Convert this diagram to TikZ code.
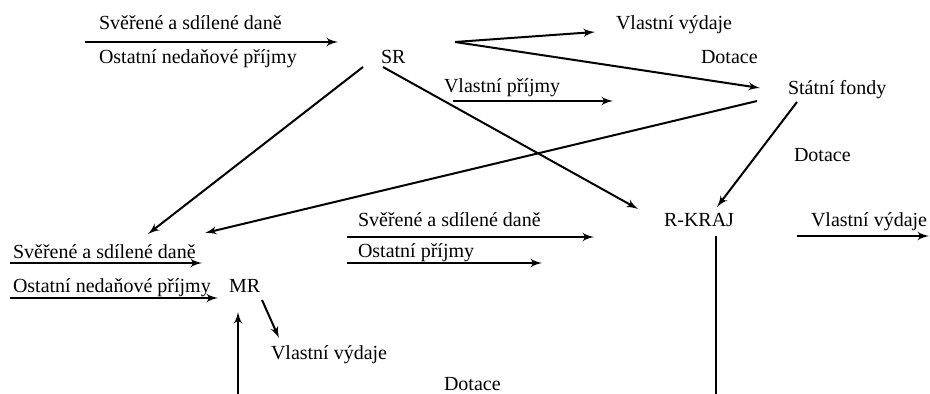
\documentclass[tikz,border=0pt]{standalone}
\usepackage{fontspec}
\setmainfont{LiberationSerif}[Extension=.ttf, UprightFont=*-Regular, BoldFont=*-Bold]
\usetikzlibrary{arrows}

\begin{document}
\begin{tikzpicture}[x=0.5pt, y=-0.5pt, ->, >=latex', line width=1pt,
  every node/.style={inner sep=0pt, anchor=base west, font=\rmfamily\fontsize{10}{12}\selectfont}]
  \useasboundingbox (0,0) rectangle (930,394);
  % the four levels
  \node (SR) at (380,64) {SR};
  \node (SF) at (787,95) {Státní fondy};
  \node (KRAJ) at (663,227) {R-KRAJ};
  \node (MR) at (228,293) {MR};
  % texts round SR and the funds
  \node (SRin1) at (98,30) {Svěřené a sdílené daně};
  \node (SRin2) at (98,64) {Ostatní nedaňové příjmy};
  \node (SRout) at (615,30) {Vlastní výdaje};
  \node (SRdot) at (700,64) {Dotace};
  \node (SFin) at (443,93) {Vlastní příjmy};
  \node (SFdot) at (793,162) {Dotace};
  % texts round R-KRAJ
  \node (KRin1) at (357,227) {Svěřené a sdílené daně};
  \node (KRin2) at (357,258) {Ostatní příjmy};
  \node (KRout) at (810,227) {Vlastní výdaje};
  % texts round MR
  \node (MRin1) at (12,259) {Svěřené a sdílené daně};
  \node (MRin2) at (12,293) {Ostatní nedaňové příjmy};
  \node (MRout) at (270,360) {Vlastní výdaje};
  \node (MRdot) at (443,391) {Dotace};

  % ends of the connectors
  \coordinate (sr-in-s) at (85,42);   \coordinate (sr-in-t) at (338,42);
  \coordinate (sr-r) at (455,42);
  \coordinate (vv-t) at (595,32);     \coordinate (sf-t) at (760,88);
  \coordinate (vp-s) at (453,101);    \coordinate (vp-t) at (613,101);
  \coordinate (sr-l) at (363,67);     \coordinate (mr-t1) at (148,234);
  \coordinate (sr-b) at (383,67);     \coordinate (kr-t1) at (638,209);
  \coordinate (sf-l) at (757,101);    \coordinate (mr-t2) at (205,233);
  \coordinate (sf-b) at (797,102);    \coordinate (kr-t2) at (717,207);
  \coordinate (k1-s) at (347,237);    \coordinate (k1-t) at (594,237);
  \coordinate (k2-s) at (347,263);    \coordinate (k2-t) at (542,263);
  \coordinate (ko-s) at (797,236);    \coordinate (ko-t) at (929,236);
  \coordinate (kr-d) at (716,236);    \coordinate (kr-e) at (716,394);
  \coordinate (m1-s) at (10,263);     \coordinate (m1-t) at (202,263);
  \coordinate (m2-s) at (10,298);     \coordinate (m2-t) at (218,298);
  \coordinate (mr-r) at (262,300);    \coordinate (mv-t) at (279,338);
  \coordinate (mr-e) at (238,394);    \coordinate (mr-d) at (238,312);

  \path (sr-in-s) edge (sr-in-t)
        (sr-r) edge (vv-t)
        (sr-r) edge (sf-t)
        (vp-s) edge (vp-t)
        (sr-l) edge (mr-t1)
        (sr-b) edge (kr-t1)
        (sf-l) edge (mr-t2)
        (sf-b) edge (kr-t2)
        (k1-s) edge (k1-t)
        (k2-s) edge (k2-t)
        (ko-s) edge (ko-t)
        (kr-d) edge[-] (kr-e)
        (m1-s) edge (m1-t)
        (m2-s) edge (m2-t)
        (mr-r) edge (mv-t)
        (mr-e) edge (mr-d)
        ;
\end{tikzpicture}
\end{document}
